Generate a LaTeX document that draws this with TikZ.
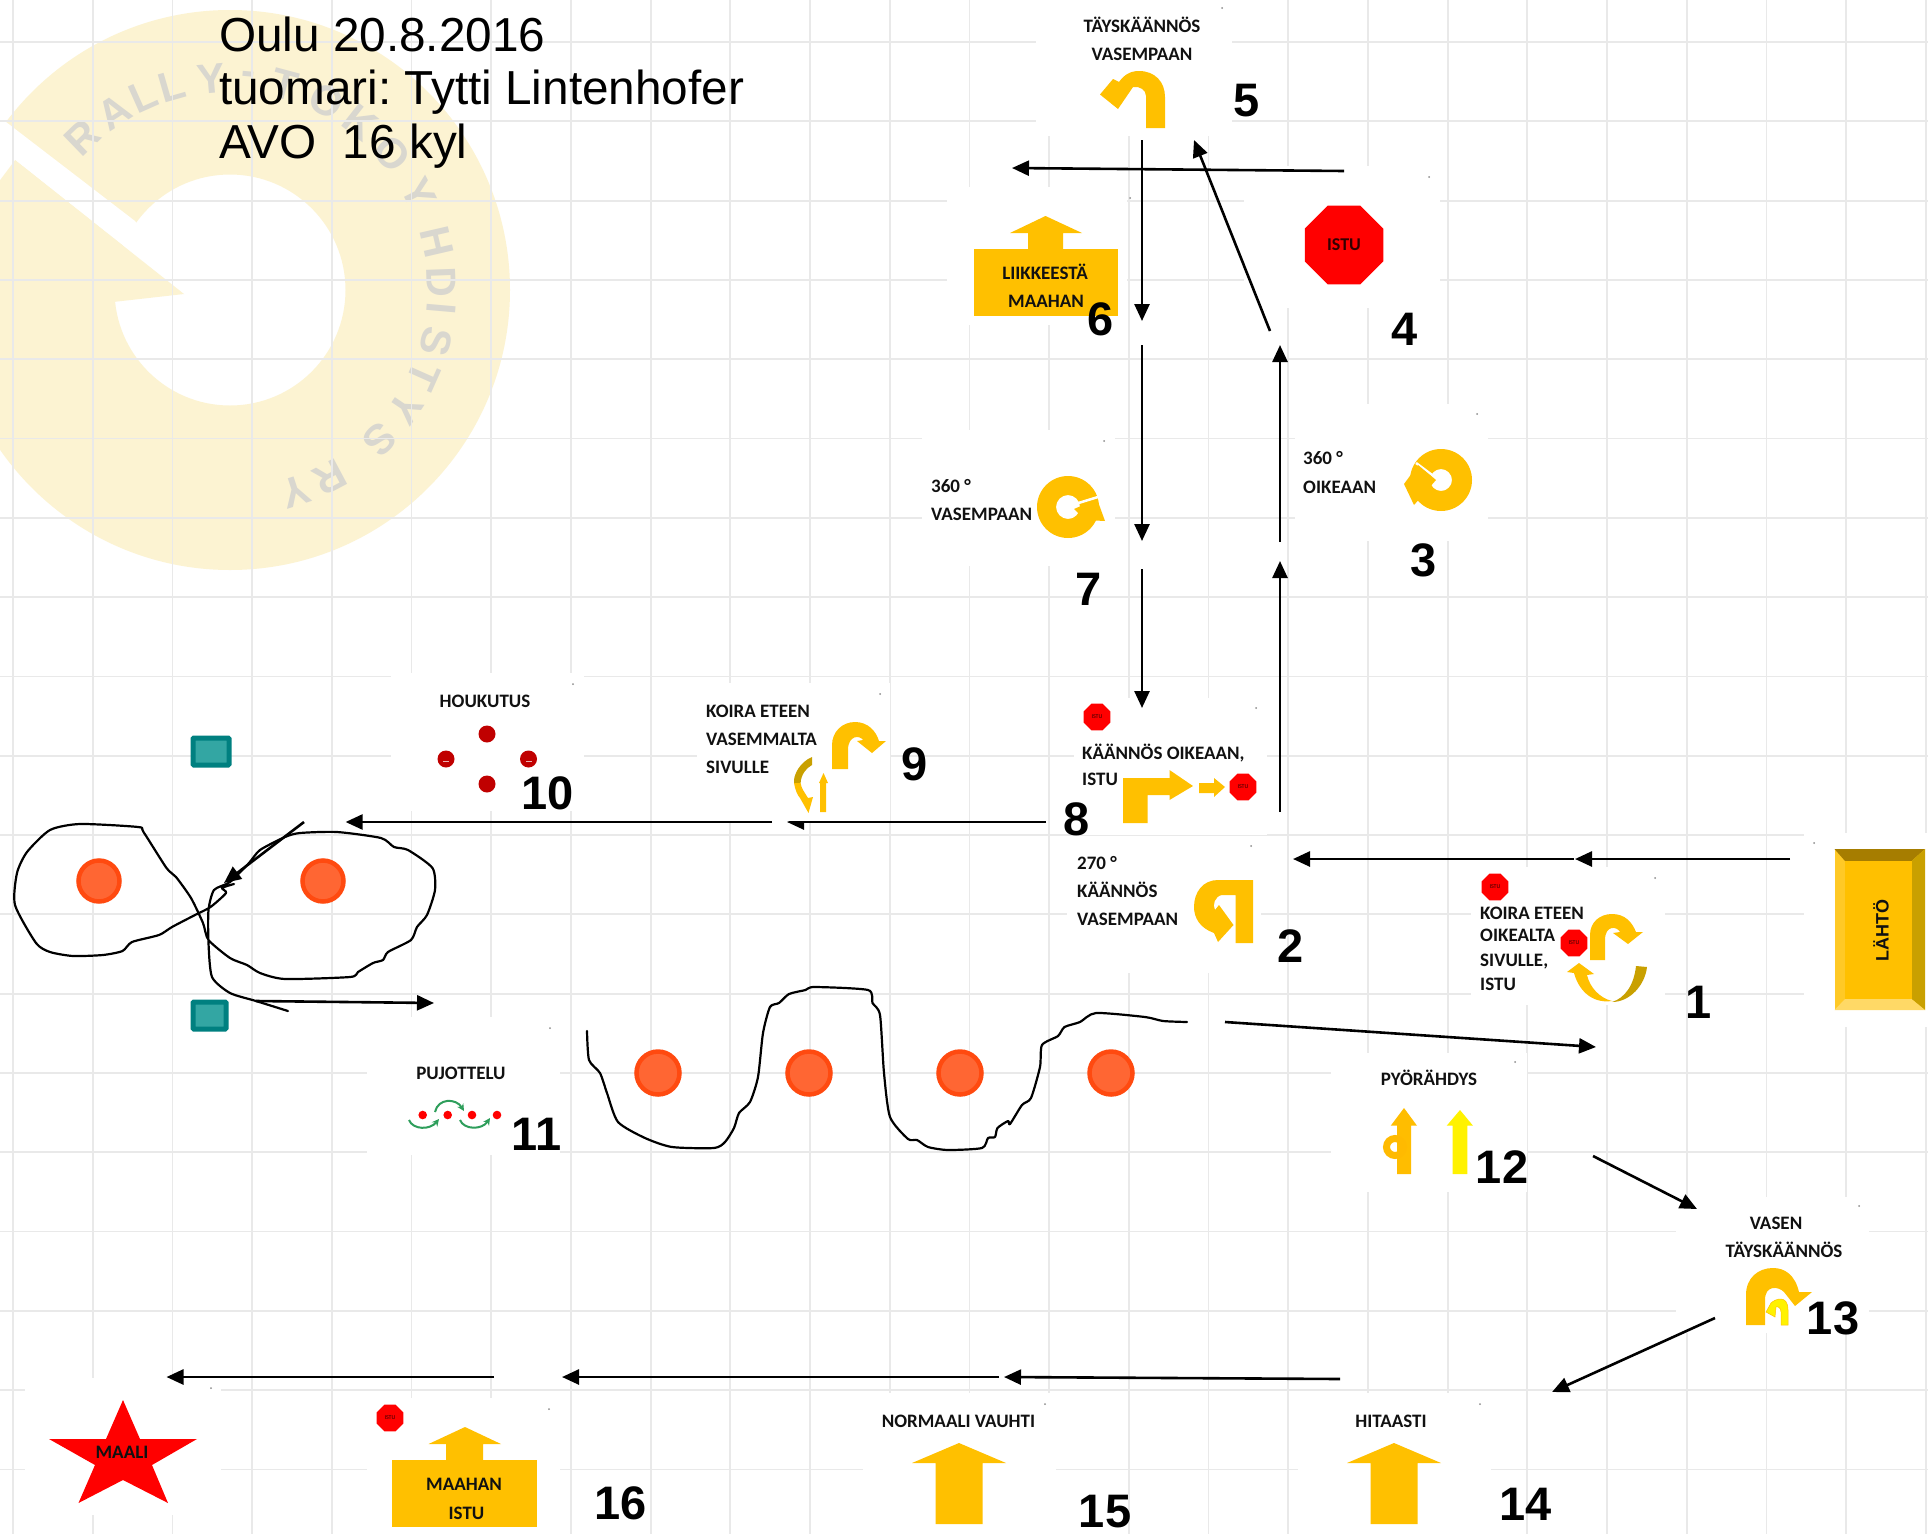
\documentclass[tikz,border=0pt]{standalone}
\usepackage{fontspec}
\setmainfont{Liberation Sans}
\newfontfamily\cardfont{Carlito}
\usetikzlibrary{arrows.meta}
\usetikzlibrary{shapes.geometric}
\definecolor{signyellow}{HTML}{FFC000}
\definecolor{signdark}{HTML}{C9A000}
\definecolor{coneface}{HTML}{FF6633}
\definecolor{coneedge}{HTML}{FF4A10}
\definecolor{gatefill}{HTML}{33A6A3}
\definecolor{gateedge}{HTML}{008080}
\definecolor{ringcol}{HTML}{FCF3D2}
\definecolor{wmtext}{HTML}{D9D7CF}
\definecolor{gridcol}{HTML}{E9E9E9}
\definecolor{labelcol}{HTML}{111111}
\definecolor{lurecol}{HTML}{C00000}
\definecolor{weavecol}{HTML}{2E9E5B}
\tikzstyle{route} = [draw,line width=2.6pt,-{Triangle[length=17pt,width=15pt]}]
\tikzstyle{handline} = [draw,line width=2.2pt,line join=round,line cap=round]
\tikzstyle{sign} = [fill=signyellow]
\tikzstyle{cardlabel}=[inner sep=0pt,text height=12pt,text depth=0pt,text=labelcol,font=\cardfont\bfseries\fontsize{19}{21}\selectfont]
\tikzstyle{stepnum}=[inner sep=0pt,text height=34pt,text depth=0pt,font=\bfseries\fontsize{47}{50}\selectfont]
\tikzstyle{stopsign}=[regular polygon,regular polygon sides=8,fill=red,inner sep=0pt,minimum size=29pt,text=black!80!red,font=\cardfont\fontsize{6}{7}\selectfont]
\tikzstyle{cone}=[circle,fill=coneface,draw=coneedge,line width=4.5pt,inner sep=0pt]
\tikzstyle{gate}=[fill=gatefill,draw=gateedge,line width=5pt,rounded corners=1pt]
\tikzstyle{lure}=[circle,fill=lurecol,inner sep=0pt,minimum size=17pt]
\tikzstyle{headline}=[anchor=base west,inner sep=0pt,font=\frenchspacing\fontsize{47.7}{53.5}\selectfont]
\begin{document}
\begin{tikzpicture}[x=1pt,y=-1pt]

    \path[use as bounding box,clip] (0,0) rectangle (1928,1534);
    \fill[white] (0,0) rectangle (1928,1534);

    % watermark
    \fill[ringcol,even odd rule] (230,290) circle (280pt) circle (115.5pt);
    \fill[white] (-7,112) -- (135,221) -- (184,294) -- (15,160) -- (0,180) -- (-7,180) -- cycle;
    \fill[ringcol] (15,160) -- (184,294) -- (113,302) -- (60,260) -- cycle;
    \foreach \ang/\letter in {134/R, 123/A, 114/L, 106/L, 95/Y, 85/-, 75/T, 63/O, 52/K, 40/O, 27/Y, 13/H, 2/D, -5/I, -14/S, -24/T, -34/Y, -45/S, -62/R, -72/Y}
        \node[text=wmtext,inner sep=0pt,rotate=\ang-90,font=\bfseries\fontsize{42}{44}\selectfont] (W\ang) at ({230+212*cos(\ang)},{290-212*sin(\ang)}) {\letter};

    % grid
    \foreach \k in {0,...,24}
        \draw[gridcol,line width=1.8pt] ({13+79.7*\k},0) -- ({13+79.7*\k},1534);
    \foreach \k in {0,...,18}
        \draw[gridcol,line width=1.8pt] (0,{42+79.3*\k}) -- (1928,{42+79.3*\k});

    \foreach \name/\x/\y in {a/1046/822, b/787/822}
        \coordinate (\name) at (\x,\y);
    \path[route] (a) -- (b);

    % white cards
    \foreach \x/\y/\xx/\yy in {1036/0/1232/136, 1244/166/1440/308, 947/187/1127/325, 922/430/1115/566, 1295/404/1488/541, 1074/698/1267/835, 1067/836/1261/973, 697/683/890/820.5, 391/673/584/811, 367/1017/560/1155, 1471/867/1665/1005, 1804/833/1928/1027, 1331/1053/1527/1192, 1676/1197/1869/1333, 1298/1393/1491/1534, 863/1393/1056/1534, 367/1398/560/1534, 25/1378/221/1515}
        \fill[white] (\x,\y) rectangle (\xx,\yy);
    \foreach \x/\y in {1222/8, 1429/177, 1130/198, 1104/441, 1477/414, 573/684, 550/1028, 880/694, 1256/708, 1251/846, 1655/878, 1814/843, 1515/1062, 1859/1206, 211/1388, 549/1409, 1045/1404, 1480/1404}
        \fill[black!45] (\x,\y) circle (1pt);

    % signs
    \fill[sign] (1146,128) -- (1146,96) .. controls (1146,90) and (1140,86) .. (1133,87) -- (1118,109) -- (1100,94.5) -- (1113,79) -- (1119,82) .. controls (1124,75) and (1130,71) .. (1139,71) .. controls (1155,71) and (1165,82) .. (1165,97) -- (1165,128) -- cycle;
    \fill[sign] (974,249) rectangle (1118,316);
    \fill[sign] (1045.5,216) -- (1082,233) -- (1063,233) -- (1063,250) -- (1028,250) -- (1028,233) -- (1010,233) -- cycle;

    \fill[sign,even odd rule] (1441,480) circle (31pt) circle (11pt);
    \draw[white,line width=2.5pt] (1416,463) -- (1436,478);
    \fill[sign] (1404,484) -- (1418,465) -- (1436,480) -- (1414,505) -- cycle;

    \fill[sign,even odd rule] (1068,507) circle (31pt) circle (12pt);
    \draw[white,line width=2.5pt] (1072,505) -- (1098,497);
    \fill[sign] (1074,509) -- (1097,499) -- (1105,521) -- (1085,520) -- cycle;

    \fill[sign] (1123,823) -- (1123,778) -- (1169.5,778) -- (1169.5,770) -- (1193,786) -- (1169.5,800) -- (1169.5,795) -- (1147.5,795) -- (1147.5,823) -- cycle;
    \fill[sign] (1199,783) -- (1214,783) -- (1214,778) -- (1225,787) -- (1214,797) -- (1214,793) -- (1199,793) -- cycle;

    \fill[sign] (1253,880) -- (1253,943) -- (1235.5,943) -- (1235.5,895) -- (1222,895) .. controls (1215,896) and (1212,905) .. (1215,910) -- (1219,905) -- (1233.5,925) -- (1218,942) -- (1214,933) .. controls (1200,928) and (1194,918) .. (1194,907) .. controls (1194,892) and (1203,880) .. (1218,880) -- cycle;

    \fill[sign] (832,769) -- (832,745) .. controls (832,732) and (842,722) .. (855,722) .. controls (868,722) and (876,731) .. (879,741) -- (886,741) -- (872,753) -- (857,741) -- (863,740) .. controls (860,735) and (848,735) .. (848,750) -- (848,769) -- cycle;
    \fill[signdark] (812,757) .. controls (800,762) and (793,775) .. (794,783) -- (800.6,783) .. controls (801,775) and (806,768) .. (812,765) -- cycle;
    \fill[sign] (794,783) .. controls (795,790) and (798,796) .. (800,798) -- (808.5,813) -- (813,797) -- (808,798) .. controls (805,793) and (801,788) .. (800.6,783) -- cycle;
    \fill[sign] (823.5,773) -- (828,783) -- (826,783) -- (826,812) -- (820,812) -- (820,783) -- (819,783) -- cycle;

    \fill[sign] (1590,960) -- (1590,935) .. controls (1590,922) and (1600,914) .. (1612,914) .. controls (1625,914) and (1632,922) .. (1636,932) -- (1643,932) -- (1628,944) -- (1613,933) -- (1620,932) .. controls (1617,926) and (1605,925) .. (1605,940) -- (1605,960) -- cycle;
    \fill[signdark] (1647,967) .. controls (1645,985) and (1630,1002) .. (1612,1002) .. controls (1625,998) and (1634,985) .. (1636,966) -- cycle;
    \fill[sign] (1579,963) -- (1594,974) -- (1587,975) .. controls (1590,988) and (1600,998) .. (1612,1001) .. controls (1590,1004) and (1578,988) .. (1574,973) -- (1567,972) -- cycle;

    % start box
    \fill[fill=signyellow!85!white] (1834.5,849) rectangle (1925,1010);
    \fill[fill=black!35!signyellow] (1834.5,849) -- (1925,849) -- (1911.5,861) -- (1845,861) -- cycle;
    \fill[fill=signdark] (1925,849) -- (1925,1010) -- (1911.5,999) -- (1911.5,861) -- cycle;
    \fill[fill=signyellow!60!white] (1834.5,1010) -- (1925,1010) -- (1911.5,999) -- (1845,999) -- cycle;
    \fill[sign] (1845,861) rectangle (1911.5,999);
    \node[rotate=90,inner sep=0pt,text=labelcol,font=\bfseries\fontsize{18}{20}\selectfont] (start) at (1881,930) {LÄHTÖ};

    % spin
    \fill[fill=signyellow!95!orange] (1404,1108) -- (1417,1125.7) -- (1411,1125.7) -- (1411,1174) -- (1397,1174) -- (1397,1125.7) -- (1390.7,1125.7) -- cycle;
    \draw[signyellow!90!orange,line width=7pt] (1395,1147) circle (8.5pt);
    \fill[yellow] (1460,1110) -- (1473,1125.7) -- (1467.3,1125.7) -- (1467.3,1174) -- (1452.7,1174) -- (1452.7,1125.7) -- (1446.7,1125.7) -- cycle;

    \fill[sign] (1746,1325) -- (1746,1295) .. controls (1746,1278) and (1758,1268) .. (1773,1268) .. controls (1785,1268) and (1795,1275) .. (1799,1292) -- (1812,1292) -- (1795,1306) -- (1784,1292) .. controls (1778,1286) and (1765,1285) .. (1765,1300) -- (1765,1325) -- cycle;
    \fill[yellow,draw=signyellow,line width=0.5pt] (1781,1325) -- (1781,1312) .. controls (1781,1308) and (1778,1306) .. (1776,1307) -- (1775,1317) -- (1766,1312) -- (1771,1303) .. controls (1775,1299) and (1788,1294) .. (1788,1310) -- (1788,1325) -- cycle;

    \foreach \x in {959,1394}
        \fill[sign] (\x,1443) -- ++(47,20) -- ++(-23.5,0) -- ++(0,61) -- ++(-47,0) -- ++(0,-61) -- ++(-23.5,0) -- cycle;

    \fill[sign] (392,1460) rectangle (537,1527);
    \fill[sign] (465,1427) -- (501,1444) -- (483,1444) -- (483,1461) -- (446,1461) -- (446,1444) -- (428.6,1444) -- cycle;

    \fill[red] (123,1400) -- (140,1439) -- (197,1439) -- (152,1465) -- (168,1503) -- (123,1480) -- (78.5,1503) -- (95,1465) -- (49,1439) -- (106,1439) -- cycle;

    % lure and weave poles
    \foreach \name/\x/\y in {L1/487/734, L2/446/759, L3/528.5/759, L4/487/784}
        \node[lure] (\name) at (\x,\y) {};
    \foreach \x in {446,528.5}
        \fill[white!70!lurecol] (\x-3,760.5) rectangle (\x+3,761.5);
    \foreach \name/\x in {P1/422.7, P2/447.7, P3/472, P4/497}
        \node[circle,fill=red,inner sep=0pt,minimum size=8.6pt] (\name) at (\x,1115) {};
    \draw[weavecol,line width=2pt,-{Stealth[length=7pt,width=7pt]}] (409,1120) .. controls (413,1130) and (430,1130) .. (439,1119);
    \draw[weavecol,line width=2pt,-{Stealth[length=7pt,width=7pt]}] (435,1112) .. controls (438,1098) and (456,1098) .. (464,1111);
    \draw[weavecol,line width=2pt,-{Stealth[length=7pt,width=7pt]}] (460,1120) .. controls (464,1130) and (482,1130) .. (490,1118);

    % cones
    \foreach \name/\x/\y/\rad in {C1/99/881/41, C2/323/881/41, C3/658/1073/43, C4/809/1073/43, C5/960/1073/43, C6/1111/1073/43}
        \node[cone,minimum size=\rad pt] (\name) at (\x,\y) {};
    \node[gate,minimum width=36pt,minimum height=27pt,inner sep=0pt] (G1) at (211,751.5) {};
    \node[gate,minimum width=33pt,minimum height=27pt,inner sep=0pt] (G2) at (209.5,1015.5) {};

    % stop signs
    \foreach \name/\x/\y in {I1/1097/717, I2/1243/787, I3/1495/887, I4/1574/943, I5/390/1418}
        \node[stopsign] (\name) at (\x,\y) {ISTU};
    \node[stopsign,minimum size=85pt,font=\cardfont\bfseries\fontsize{18}{20}\selectfont] (I0) at (1344,245) {ISTU};

    % handler path
    \draw[handline] plot[smooth,tension=0.4] coordinates {(234,884) (222,888) (226,893) (210.5,907) (195,915) (172,927) (159,935) (132,942) (122.5,951) (103,955) (73,956) (50,952) (36,943) (15,905) (17,873) (27,852) (50,830) (80,824) (138,827) (143.5,832) (166.5,868) (176,877) (191,898) (203,923) (208.5,940) (230,958) (247,965) (260,973) (285,979) (350,977) (358,972) (373,963) (383,960) (388,952) (411,940) (417,927) (427,915) (435,890) (432.5,868) (408,850) (394,847) (381,838) (337,832) (300,833) (285,837) (260,850) (249,863) (230,882) (214,890) (208.5,910) (208.5,943) (212,977) (230,993) (256,1001) (288,1011)};
    \draw[handline] plot[smooth,tension=0.4] coordinates {(587,1031) (589,1060) (600,1073) (607,1093) (618,1122) (645,1138) (672,1147) (714,1148) (725,1142) (734,1128) (739,1113) (750,1102) (758,1077) (763,1033) (770,1007) (779,1003) (789,994) (805.5,990) (814.5,987) (868,990) (872.5,1003) (880,1015) (884,1073) (890,1117) (908,1139) (917,1140) (928,1147) (948,1150) (982,1148) (988,1138) (995,1137) (997.5,1128) (1008,1121) (1010,1124) (1022,1105) (1031,1098) (1040,1067) (1042,1045) (1058,1036) (1064.5,1027) (1080,1022) (1096,1013) (1145,1017) (1163,1021) (1187,1022)};

    % route
    \foreach \name/\x/\y in {r1/1790/859, r2/1575/859, r3/1574/859, r4/1293/859, r5/1280/812, r6/1280/561, r7/1280/542, r8/1280/345, r9/1270/331, r10/1194/140, r11/1344/171, r12/1012/168, r13/1142/140, r14/1142/321, r15/1142/345, r16/1142/541, r17/1142/569, r18/1142/708, r19/772/822, r20/345.6/822, r21/304/822, r22/224/883, r23/256/1001, r24/434/1003, r25/1225/1022, r26/1596/1047, r27/1593/1156, r28/1697/1209, r29/1715/1318, r30/1552/1392, r31/1340/1379, r32/1004/1377, r33/999/1377, r34/562/1377, r35/494/1377, r36/166.5/1377}
        \coordinate (\name) at (\x,\y);
    \foreach \source/\dest in {r1/r2, r3/r4, r5/r6, r7/r8, r9/r10, r11/r12, r13/r14, r15/r16, r17/r18, r19/r20, r21/r22, r23/r24, r25/r26, r27/r28, r29/r30, r31/r32, r33/r34, r35/r36}
        \path[route] (\source) -- (\dest);

    % card labels
    \foreach \name/\x/\y/\txt in {T1/1142/26/TÄYSKÄÄNNÖS, T2/1142/54/VASEMPAAN, T3/1045/273/LIIKKEESTÄ, T4/1046/301.5/MAAHAN, T5/485/701/HOUKUTUS, T6/461/1073/PUJOTTELU, T7/1429/1079/PYÖRÄHDYS, T8/1776/1223/VASEN, T9/1784/1251/TÄYSKÄÄNNÖS, T10/1391/1421/HITAASTI, T11/958.5/1421/NORMAALI VAUHTI, T12/464/1484/MAAHAN, T13/466.5/1513/ISTU, T14/122/1452/MAALI}
        \node[cardlabel] (\name) at (\x,\y) {\txt};
    \foreach \name/\x/\y/\txt in {S1/1303/458.5/360 °, S2/1303/487/OIKEAAN, S3/931/486/360 °, S4/931/514/VASEMPAAN, S5/1082/753/{KÄÄNNÖS OIKEAAN,}, S6/1082/779/ISTU, S7/1077/863/270 °, S8/1077/891/KÄÄNNÖS, S9/1077/919/VASEMPAAN, S10/706/711/KOIRA ETEEN, S11/706/739/VASEMMALTA, S12/706/767/SIVULLE, S13/1480/913/KOIRA ETEEN, S14/1480/935/OIKEALTA, S15/1480/960/{SIVULLE,}, S16/1480/984/ISTU}
        \node[cardlabel,anchor=west] (\name) at (\x,\y) {\txt};

    % numbers
    \foreach \n/\x/\y in {1/1699/1001, 2/1291/945, 3/1424/559, 4/1405/328, 5/1247/99.5, 6/1100.5/318, 7/1089/588, 8/1077/818, 9/915/763, 10/548/792, 11/536.5/1133, 12/1502/1166, 13/1833/1317, 14/1525.5/1503, 15/1105/1510, 16/621/1502}
        \node[stepnum] (N\n) at (\x,\y) {\n};

    \node[headline] (title1) at (219,51) {Oulu 20.8.2016};
    \node[headline] (title2) at (219,104.5) {tuomari: Tytti Lintenhofer};
    \node[headline] (title3) at (219,158) {AVO \ 16 kyl};

\end{tikzpicture}
\end{document}
